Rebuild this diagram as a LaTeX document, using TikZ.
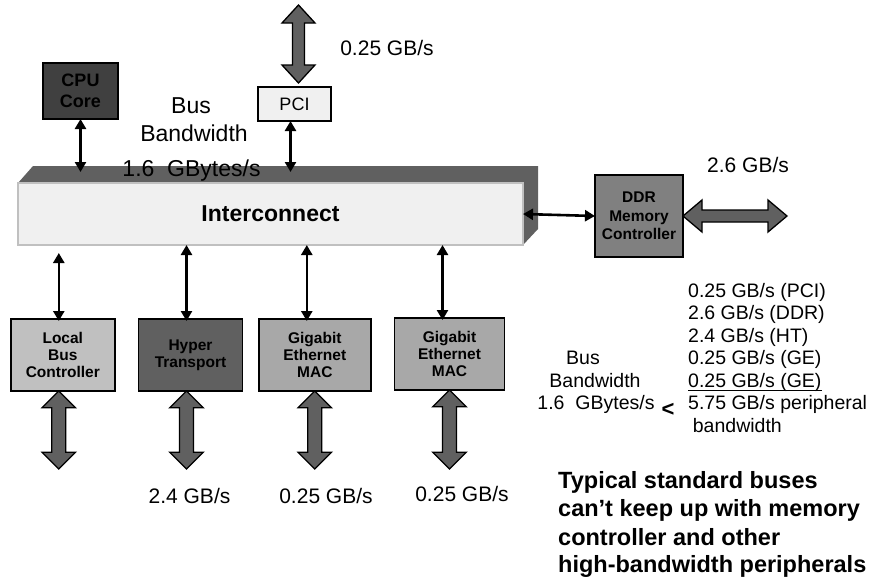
\documentclass[tikz,border=0pt]{standalone}
\usepackage{fontspec}
\setmainfont{Liberation Sans}
\usetikzlibrary{arrows.meta,calc,backgrounds}
\definecolor{gA}{HTML}{404040}
\definecolor{gB}{HTML}{F0F0F0}
\definecolor{gC}{HTML}{C0C0C0}
\definecolor{gD}{HTML}{808080}
\definecolor{gE}{HTML}{A8A8A8}
\definecolor{gF}{HTML}{606060}
\newcommand\darrowV[5]{%
  \draw[bigarr] let \p1=#1, \p2=#2 in
  (\x1,\y1) -- (\x1+#4,\y1-#5) -- (\x1+#3,\y1-#5) -- (\x1+#3,\y2+#5) -- (\x1+#4,\y2+#5)
  -- (\x1,\y2) -- (\x1-#4,\y2+#5) -- (\x1-#3,\y2+#5) -- (\x1-#3,\y1-#5) -- (\x1-#4,\y1-#5) -- cycle;}
\newcommand\darrowH[5]{%
  \draw[bigarr] let \p1=#1, \p2=#2 in
  (\x1,\y1) -- (\x1+#5,\y1+#4) -- (\x1+#5,\y1+#3) -- (\x2-#5,\y1+#3) -- (\x2-#5,\y1+#4)
  -- (\x2,\y1) -- (\x2-#5,\y1-#4) -- (\x2-#5,\y1-#3) -- (\x1+#5,\y1-#3) -- (\x1+#5,\y1-#4) -- cycle;}
\begin{document}
\begin{tikzpicture}[x=1pt,y=-1pt,
  box/.style={draw=black,line width=1.8pt,inner sep=0pt,outer sep=0pt,align=center,
    font=\bfseries\fontsize{15.5}{17}\selectfont},
  thinarr/.style={line width=2.6pt,{Triangle[width=11pt,length=10pt]}-{Triangle[width=11pt,length=10pt]}},
  bigarr/.style={draw=black,line width=1.3pt,fill=gF,line join=miter},
  rate/.style={font=\fontsize{21}{25}\selectfont,anchor=base,inner sep=0pt},
  bwbig/.style={font=\fontsize{23}{28}\selectfont,anchor=base,inner sep=0pt},
  lst/.style={font=\fontsize{19.5}{22}\selectfont,anchor=base west,inner sep=0pt},
  bwsmall/.style={font=\fontsize{19.5}{22}\selectfont,anchor=base,inner sep=0pt},
  note/.style={font=\bfseries\fontsize{23.5}{28}\selectfont,anchor=base west,inner sep=0pt}]
\useasboundingbox (0,0) rectangle (889,581);

% boxes
\node[box,fill=gA,minimum width=75pt,minimum height=56pt,font=\bfseries\fontsize{18}{21}\selectfont] (cpu) at (80.5,91) {CPU\\Core};
\node[box,fill=gB,minimum width=73pt,minimum height=34pt,font=\fontsize{18}{21}\selectfont] (pci) at (294.5,104) {PCI};
\node[draw=gC,line width=1.5pt,fill=gB,inner sep=0pt,outer sep=0pt,minimum width=505pt,minimum height=62pt,
  font=\bfseries\fontsize{23}{27}\selectfont] (inter) at (270.5,214) {Interconnect};
\begin{scope}[on background layer]
  \fill[gF] (inter.north west) -- ++(15,-17) -- ($(inter.north east)+(15,-17)$)
    -- ($(inter.south east)+(15,-16)$) -- (inter.south east) -- cycle;
\end{scope}
\node[box,fill=gD,minimum width=88pt,minimum height=82pt,font=\bfseries\fontsize{15.5}{18.5}\selectfont] (ddr) at (639,216) {DDR\\Memory\\Controller};
\node[box,fill=gC,minimum width=104pt,minimum height=72pt] (local) at (62.8,355) {Local\\Bus\\Controller};
\node[box,fill=gF,minimum width=104pt,minimum height=72pt] (hyper) at (190.5,355) {Hyper\\Transport};
\node[box,fill=gE,minimum width=112pt,minimum height=72pt] (ge1) at (314.8,355) {Gigabit\\Ethernet\\MAC};
\node[box,fill=gE,minimum width=110pt,minimum height=72pt] (ge2) at (449.5,354) {Gigabit\\Ethernet\\MAC};

% free ends of the wide arrows
\coordinate (pcitop) at (298.5,5);
\coordinate (ddrout) at (787,216);
\coordinate (lbout) at (58.8,469);
\coordinate (htout) at (186.5,469);
\coordinate (g1out) at (314.8,469);
\coordinate (g2out) at (449.5,469);

% thin connectors
\draw[thinarr] (cpu.south) -- ($(cpu.south |- inter.north)+(0,-11)$);
\draw[thinarr] ($(pci.south)+(-4,0)$) -- ($(pci.south |- inter.north)+(-4,-11)$);
\draw[thinarr] (inter.east) -- (ddr.west);
\draw[thinarr] ($(local.north |- inter.south)+(-4,8)$) -- ($(local.north)+(-4,2)$);
\draw[thinarr] ($(hyper.north |- inter.south)+(-4,0)$) -- ($(hyper.north)+(-4,2)$);
\draw[thinarr] ($(ge1.north |- inter.south)+(-8,0)$) -- ($(ge1.north)+(-8,2)$);
\draw[thinarr] ($(ge2.north |- inter.south)+(-7,0)$) -- ($(ge2.north)+(-7,2)$);

% wide connectors
\darrowV{(pcitop)}{($(pci.north)+(4,-4)$)}{6pt}{16.5pt}{18pt}
\darrowH{(ddr.east)}{(ddrout)}{6pt}{16pt}{19pt}
\darrowV{($(local.south)+(-4,0)$)}{(lbout)}{7pt}{16.7pt}{16.7pt}
\darrowV{($(hyper.south)+(-4,0)$)}{(htout)}{7pt}{16.7pt}{16.7pt}
\darrowV{(ge1.south)}{(g1out)}{7pt}{16.7pt}{16.7pt}
\darrowV{(ge2.south)}{(g2out)}{7pt}{16.7pt}{16.7pt}

% rate labels
\node[rate] (rpci) at (387,55.5) {0.25 GB/s};
\node[rate] (rddr) at (748,172.5) {2.6 GB/s};
\node[rate] (rht) at (189.5,503.5) {2.4 GB/s};
\node[rate] (rge1) at (326,503.5) {0.25 GB/s};
\node[rate] (rge2) at (462,501.5) {0.25 GB/s};

% bus bandwidth (top)
\node[bwbig] (b1) at (191,113.2) {Bus};
\node[bwbig] (b2) at (194,141.2) {Bandwidth};
\node[bwbig] (b3) at (191.5,176.2) {1.6~~GBytes/s};

% right-hand list
\node[lst] (l1) at (688,297) {0.25 GB/s (PCI)};
\node[lst] (l2) at (688,319.5) {2.6 GB/s (DDR)};
\node[lst] (l3) at (688,342) {2.4 GB/s (HT)};
\node[lst] (l4) at (688,364.5) {0.25 GB/s (GE)};
\node[lst] (l5) at (688,387) {0.25 GB/s (GE)\ };
\draw[line width=1.2pt] ($(l5.base west)+(0,3.8)$) -- ($(l5.base east)+(0,3.8)$);
\node[lst] (l6) at (688,409.5) {5.75 GB/s peripheral};
\node[lst] (l7) at (692.7,432) {bandwidth};
\node[bwsmall] (r1) at (583,364.5) {Bus};
\node[bwsmall] (r2) at (595,387) {Bandwidth};
\node[bwsmall] (r3) at (596,409.5) {1.6~~GBytes/s};
\node[font=\bfseries\fontsize{22}{22}\selectfont,anchor=base,inner sep=0pt] (lt) at (668,416) {<};

% note
\node[note] (n1) at (558,488) {Typical standard buses};
\node[note] (n2) at (558,516.5) {can’t keep up with memory};
\node[note] (n3) at (558,545) {controller and other};
\node[note] (n4) at (558,572.5) {high-bandwidth peripherals};
\end{tikzpicture}
\end{document}
